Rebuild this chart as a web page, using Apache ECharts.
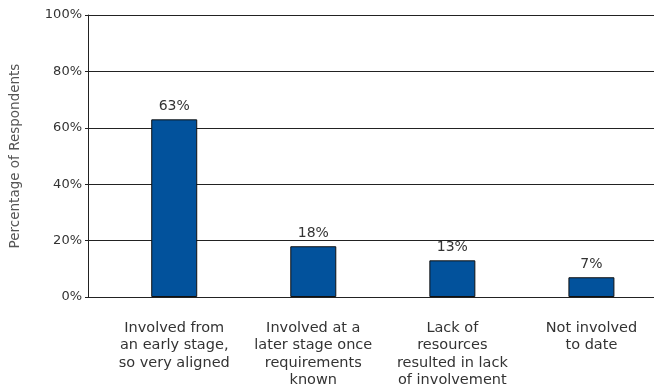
<!DOCTYPE html>
<html>
<head>
<meta charset="utf-8">
<script src="https://cdn.jsdelivr.net/npm/echarts@6/dist/echarts.min.js"></script>
<style>
  html, body { margin: 0; padding: 0; background: #fff; }
  #chart { width: 654px; height: 389px; }
</style>
</head>
<body>
<div id="chart"></div>
<script>
// Survey responses: share of respondents per involvement level
const categories = [
  'Involved from\nan early stage,\nso very aligned',
  'Involved at a\nlater stage once\nrequirements\nknown',
  'Lack of\nresources\nresulted in lack\nof involvement',
  'Not involved\nto date'
];
const percentages = [63, 18, 13, 7];
const yTicks = [0, 20, 40, 60, 80, 100];

const font = 'DejaVu Sans';
const positions = categories.map((_, i) => i);

const chart = echarts.init(document.getElementById('chart'), null, { renderer: 'canvas' });
chart.setOption({
  animation: false,
  backgroundColor: '#ffffff',
  grid: { left: 88, right: 0, top: 15, bottom: 91, containLabel: false },
  xAxis: {
    type: 'value',
    min: -0.62,
    max: 3.45,
    splitLine: { show: false },
    axisTick: { show: false },
    axisLine: { show: true, onZero: true, lineStyle: { color: '#222', width: 1 } },
    axisLabel: {
      customValues: positions,
      formatter: v => categories[Math.round(v)],
      color: '#333',
      fontFamily: font,
      fontSize: 14.5,
      lineHeight: 17.5,
      margin: 22,
      align: 'center'
    }
  },
  yAxis: {
    type: 'value',
    min: yTicks[0],
    max: yTicks[yTicks.length - 1],
    interval: 20,
    name: 'Percentage of Respondents',
    nameLocation: 'middle',
    nameRotate: 90,
    nameGap: 66,
    nameTextStyle: { color: '#555', fontFamily: font, fontSize: 13.5 },
    axisLine: { show: true, onZero: false, lineStyle: { color: '#222', width: 1 } },
    axisTick: { show: true, length: 3, lineStyle: { color: '#222' } },
    splitLine: { show: true, lineStyle: { color: '#222', width: 1 } },
    axisLabel: {
      formatter: '{value}%',
      color: '#333',
      fontFamily: font,
      fontSize: 13,
      margin: 6
    }
  },
  series: [{
    type: 'bar',
    data: percentages.map((v, i) => [positions[i], v]),
    barWidth: 46,
    itemStyle: { color: '#02529c', borderColor: '#111', borderWidth: 1 },
    label: {
      show: true,
      position: 'top',
      distance: 6,
      formatter: p => p.value[1] + '%',
      color: '#333',
      fontFamily: font,
      fontSize: 14
    }
  }]
});
</script>
</body>
</html>
